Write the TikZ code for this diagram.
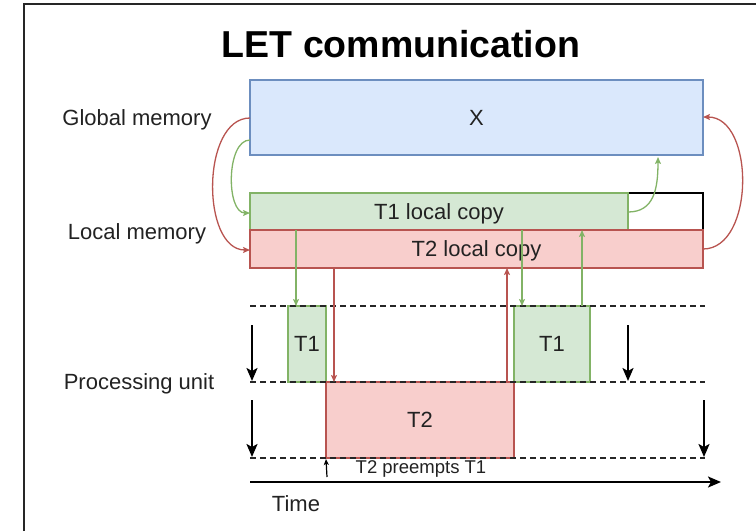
\documentclass[tikz,border=0pt]{standalone}
\usepackage{fontspec}
\setmainfont{Liberation Sans}
\usetikzlibrary{arrows.meta,calc}
\definecolor{bluefill}{HTML}{DAE8FC}
\definecolor{bluedraw}{HTML}{6C8EBF}
\definecolor{greenfill}{HTML}{D5E8D4}
\definecolor{greendraw}{HTML}{82B366}
\definecolor{redfill}{HTML}{F8CECC}
\definecolor{reddraw}{HTML}{B85450}
\definecolor{txt}{HTML}{222222}
\begin{document}
\begin{tikzpicture}[x=1pt,y=-1pt,
  lbl/.style={font=\fontsize{22}{24}\selectfont, text=txt},
  mem/.style={draw, line width=1.5pt, anchor=north west, inner sep=0pt, outer sep=0pt,
              font=\fontsize{22}{24}\selectfont, text=txt, text depth=0pt},
  gbox/.style={mem, fill=greenfill, draw=greendraw},
  rbox/.style={mem, fill=redfill, draw=reddraw},
  dashline/.style={draw=black!85, line width=1.5pt, dash pattern=on 6pt off 4pt},
  garrow/.style={draw=greendraw, line width=1.3pt, -{Stealth[length=7pt,width=6pt,inset=1.5pt]}},
  rarrow/.style={draw=reddraw, line width=1.3pt, -{Stealth[length=7pt,width=6pt,inset=1.5pt]}},
  karrow/.style={draw=black, line width=2pt, -{Stealth[length=13pt,width=11pt,inset=3pt]}},
  sarrow/.style={draw=black, line width=1.2pt, -{Stealth[length=6pt,width=5pt,inset=1.5pt]}}
]
\useasboundingbox (0,0) rectangle (756,531);
% frame
\draw[line width=1.8pt, black!85] (24,531) -- (24,4) -- (756,4);
% title
\node[font=\bfseries\fontsize{37.5}{40}\selectfont] (title) at (401,44) {LET communication};
% labels
\node[lbl] (gm) at (137,120) {Global memory};
\node[lbl] (lm) at (137,234) {Local memory};
\node[lbl] (pu) at (139,384) {Processing unit};
% memory boxes
\node[mem, fill=bluefill, draw=bluedraw, minimum width=453pt, minimum height=75pt] (X) at (250,80) {X};
\node[mem, draw=black, fill=white, minimum width=75pt, minimum height=37pt] (spare) at (628,193) {};
\node[gbox, minimum width=378pt, minimum height=37pt] (C1) at (250,193) {T1 local copy};
\node[rbox, minimum width=453pt, minimum height=38pt] (C2) at (250,230) {T2 local copy};
% task boxes
\node[gbox, minimum width=38pt, minimum height=76pt] (A1) at (288,306) {T1};
\node[rbox, minimum width=188pt, minimum height=76pt] (B) at (326,382) {T2};
\node[gbox, minimum width=76pt, minimum height=76pt] (A2) at (514,306) {T1};
% dashed timelines
\coordinate (d1L) at (250,306); \coordinate (d1R) at (705,306);
\coordinate (d2L) at (250,382); \coordinate (d2R) at (705,382);
\coordinate (d3L) at (250,458); \coordinate (d3R) at (705,458);
\draw[dashline] (d1L) -- (d1R);
\draw[dashline] (d2L) -- (d2R);
\draw[dashline] (d3L) -- (d3R);
% copy arrows
\draw[garrow] ([xshift=46pt]C1.south west) -- ([xshift=8pt]A1.north west);
\draw[rarrow] ([xshift=84pt]C2.south west) -- ([xshift=8pt]B.north west);
\draw[rarrow] ([xshift=181pt]B.north west) -- ([xshift=257pt]C2.south west);
\draw[garrow] ([xshift=272pt]C1.south west) -- ([xshift=8pt]A2.north west);
\draw[garrow] ([xshift=68pt]A2.north west) -- ([xshift=332pt]C1.south west);
% curved memory arrows
\draw[rarrow] ($(X.north west)+(0,38)$) .. controls +(-49,0) and +(-49,0) .. ($(C2.north west)+(0,20)$);
\draw[garrow] ($(X.north west)+(0,60)$) .. controls +(-24,0) and +(-24,0) .. ($(C1.north west)+(0,20)$);
\draw[rarrow] ($(C2.north east)+(0,19)$) .. controls +(52,0) and +(52,0) .. ($(X.north east)+(0,37)$);
\draw[garrow] ($(C1.north east)+(0,19)$) .. controls +(26,0) and +(0,32) .. ($(X.south east)+(-45,2)$);
% period arrows
\coordinate (p1a) at (252,325); \coordinate (p1b) at (252,381);
\coordinate (p2a) at (252,400); \coordinate (p2b) at (252,457);
\coordinate (p3a) at (628,325); \coordinate (p3b) at (628,381);
\coordinate (p4a) at (704,400); \coordinate (p4b) at (704,457);
\draw[karrow] (p1a) -- (p1b);
\draw[karrow] (p2a) -- (p2b);
\draw[karrow] (p3a) -- (p3b);
\draw[karrow] (p4a) -- (p4b);
% time axis
\coordinate (t0) at (250,482); \coordinate (t1) at (721,482);
\draw[karrow] (t0) -- (t1);
\node[lbl] (time) at (296,504) {Time};
% preemption
\coordinate (pr0) at (327,477);
\draw[sarrow] (pr0) -- ([yshift=-1pt]B.south west);
\node[font=\fontsize{18.5}{20}\selectfont, text=txt] (pre) at (421,469) {T2 preempts T1};
\end{tikzpicture}
\end{document}
